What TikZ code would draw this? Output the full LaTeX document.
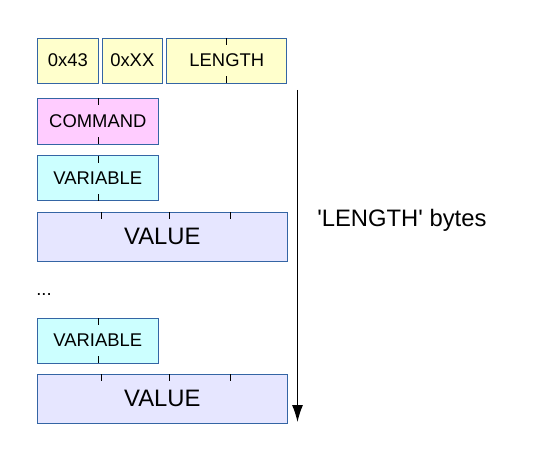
\documentclass[tikz,border=0pt]{standalone}
\usepackage{fontspec}
\setmainfont{Liberation Sans}
\usepackage{tikz}
\usetikzlibrary{arrows.meta,positioning}
\definecolor{EDGE}{HTML}{3465A4}
\definecolor{YELLOW}{HTML}{FFFFCC}
\definecolor{PINK}{HTML}{FFCCFF}
\definecolor{CYAN}{HTML}{CCFFFF}
\definecolor{LAVENDER}{HTML}{E6E6FF}
\newcommand{\smallfont}{\fontsize{18.4}{20}\selectfont}
\newcommand{\bigfont}{\fontsize{23.8}{26}\selectfont}
\newcommand{\quot}{\textquotesingle}

\begin{document}
\begin{tikzpicture}[x=1pt,y=-1pt,semithick,
	field/.style={rectangle,draw=EDGE,line width=0.8pt,inner sep=0pt,outer sep=0pt,minimum height=45pt,font=\smallfont},
	valuefield/.style={field,fill=LAVENDER,minimum width=250pt,minimum height=49pt,font=\bigfont},
	tick/.style={black,line width=0.8pt}]
	\useasboundingbox (0,0) rectangle (537,465);
	
	\node[field,fill=YELLOW,minimum width=61pt,anchor=north west] (id) at (37.3,38) {0x43};
	\node[field,fill=YELLOW,minimum width=60pt]  (xx)   [right=4pt of id]  {0xXX};
	\node[field,fill=YELLOW,minimum width=120pt] (len)  [right=4.5pt of xx]  {LENGTH};
	\node[field,fill=PINK,minimum width=121pt,minimum height=46pt] (cmd)  [below right=15pt and 0pt of id.south west]  {COMMAND};
	\node[field,fill=CYAN,minimum width=121pt]   (var1) [below right=11.5pt and 0pt of cmd.south west] {VARIABLE};
	\node[valuefield]                            (val1) [below right=11.5pt and 0pt of var1.south west] {VALUE};
	\node[inner sep=0pt,anchor=base west,font=\smallfont] (dots) at (36,295.5) {...};
	\node[field,fill=CYAN,minimum width=121pt]   (var2) at (97.8,340.5) {VARIABLE};
	\node[valuefield]                            (val2) [below right=11pt and 0pt of var2.south west] {VALUE};
	
	\coordinate (top) at (297.5,90);
	\coordinate (bot) at (297.5,422);
	\draw[-{Latex[length=17pt,width=11pt]},line width=1pt] (top) -- (bot);
	\node[inner sep=0pt,anchor=base west,font=\bigfont] (bytes) at (317,226.5) {\quot LENGTH\quot{} bytes};
	
	\draw[tick]
	([xshift=60pt]len.north west)  -- ++(0,7)
	([xshift=60pt]len.south west)  -- ++(0,-7)
	([xshift=61.4pt]cmd.north west)  -- ++(0,7)
	([xshift=61.4pt]cmd.south west)  -- ++(0,-7)
	([xshift=61.4pt]var1.north west) -- ++(0,7)
	([xshift=61.4pt]var1.south west) -- ++(0,-7)
	([xshift=61.4pt]var2.north west) -- ++(0,7)
	([xshift=61.4pt]var2.south west) -- ++(0,-7)
	([xshift=64.4pt]val1.north west)  -- ++(0,7)
	([xshift=132pt]val1.north west) -- ++(0,7)
	([xshift=193pt]val1.north west) -- ++(0,7)
	([xshift=64.4pt]val2.north west)  -- ++(0,7)
	([xshift=132pt]val2.north west) -- ++(0,7)
	([xshift=193pt]val2.north west) -- ++(0,7);
\end{tikzpicture}
\end{document}
